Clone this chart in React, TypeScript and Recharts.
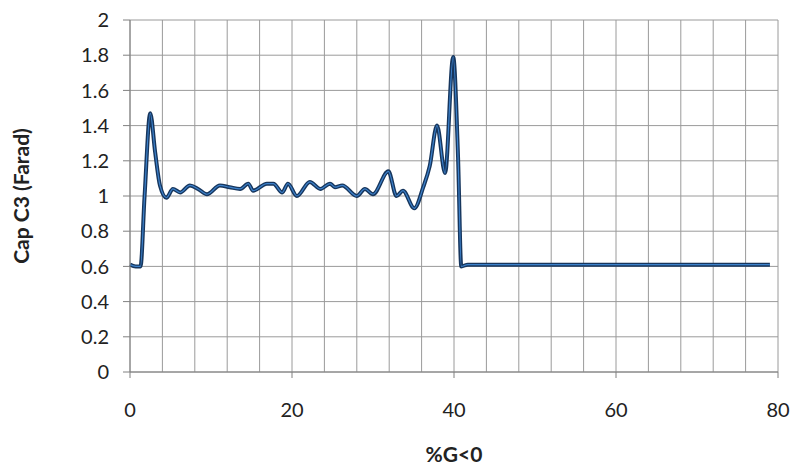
import React from 'react';
import { LineChart, Line, XAxis, YAxis, CartesianGrid } from 'recharts';

const xValues = [0, 0.7, 1.3, 1.8, 2.5, 3.1, 3.7, 4.5, 5.3, 6.2, 7.4, 8.4, 9.5, 11.1, 12.3, 13.6, 14.6, 15.2, 16.9, 17.7, 18.8, 19.5, 20.6, 22.2, 23.5, 24.7, 25.3, 26.2, 28, 29, 30, 31.9, 32.9, 33.7, 35.1, 36.2, 37, 37.9, 38.9, 39.9, 40.5, 40.9, 41.7, 50, 60, 70, 79];
const capValues = [0.61, 0.6, 0.6, 1.0, 1.47, 1.25, 1.06, 0.99, 1.04, 1.02, 1.06, 1.04, 1.01, 1.06, 1.05, 1.04, 1.07, 1.03, 1.07, 1.07, 1.02, 1.07, 1.0, 1.08, 1.04, 1.07, 1.05, 1.06, 1.0, 1.04, 1.01, 1.14, 1.0, 1.03, 0.93, 1.05, 1.17, 1.4, 1.13, 1.79, 1.22, 0.6, 0.61, 0.61, 0.61, 0.61, 0.61];

const xTicks = [0, 20, 40, 60, 80];
const xGrid = [0, 4, 8, 12, 16, 20, 24, 28, 32, 36, 40, 44, 48, 52, 56, 60, 64, 68, 72, 76, 80];
const yTicks = [0, 0.2, 0.4, 0.6, 0.8, 1, 1.2, 1.4, 1.6, 1.8, 2];

const data = xValues.map((x, i) => ({ x, cap: capValues[i] }));

const font = 'Lato, "Open Sans", sans-serif';

export default function App() {
  return (
    <div style={{ position: 'absolute', left: 0, top: 0, background: '#fff' }}>
      <LineChart width={797} height={467} data={data} margin={{ top: 20, right: 19, bottom: 55, left: 70 }}>
        <CartesianGrid stroke="#9a9a9a" strokeWidth={1} verticalValues={xGrid} horizontalValues={yTicks} />
        <XAxis
          dataKey="x"
          type="number"
          domain={[0, 80]}
          ticks={xTicks}
          height={40}
          tickSize={6}
          tickMargin={25}
          stroke="#808080"
          tick={{ fill: '#222', fontSize: 20, fontFamily: font }}
          label={{ value: '%G<0', position: 'bottom', offset: 35, style: { fill: '#222', fontSize: 21, fontWeight: 'bold', fontFamily: font } }}
        />
        <YAxis
          type="number"
          domain={[0, 2]}
          ticks={yTicks}
          width={60}
          tickSize={7}
          tickMargin={14}
          stroke="#808080"
          tick={{ fill: '#222', fontSize: 20, fontFamily: font }}
          label={{ value: 'Cap C3 (Farad)', angle: -90, position: 'left', offset: 48, style: { fill: '#222', fontSize: 21, fontWeight: 'bold', fontFamily: font, textAnchor: 'middle' } }}
        />
        <Line type="monotone" dataKey="cap" stroke="#17365d" strokeWidth={4} dot={false} isAnimationActive={false} />
        <Line type="monotone" dataKey="cap" stroke="#3d82cc" strokeWidth={1.2} dot={false} isAnimationActive={false} />
      </LineChart>
    </div>
  );
}
